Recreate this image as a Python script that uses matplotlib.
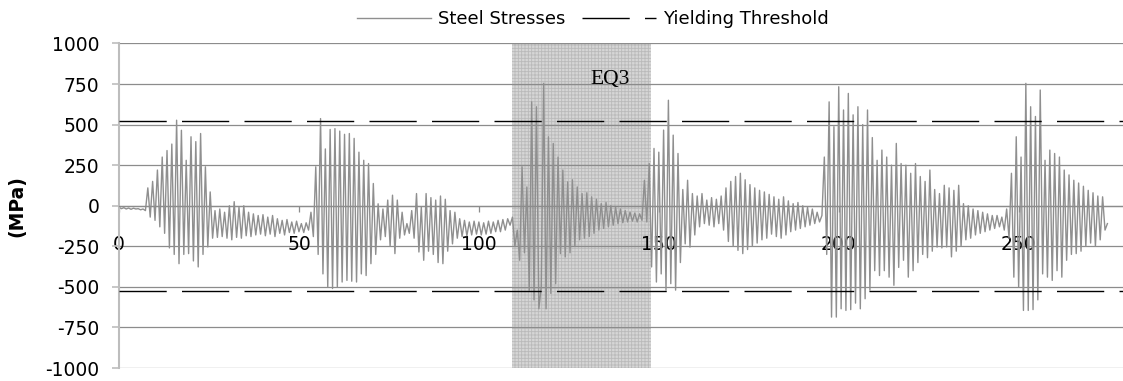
import numpy as np
import matplotlib
matplotlib.use("Agg")
import matplotlib.pyplot as plt

plt.rcParams["axes.unicode_minus"] = False
plt.rcParams["hatch.linewidth"] = 0.6

# Steel stress peaks/troughs (MPa), one value every 2/3 s
stress = [
    # 0-10
    -10, -18, -12, -20, -14, -22, -15, -20, -18, -25, -20, -30, 110, -70, 150,
    # 10-20
    -90, 220, -130, 300, -170, 340, -260, 380, -300, 527, -357, 465, -300, 280, -295,
    # 20-30
    425, -340, 395, -377, 445, -300, 240, -254, 85, -200, -30, -195, -20, -190, -40,
    # 30-40
    -200, 0, -210, 25, -195, -10, -200, 0, -185, -40, -190, -50, -180, -60, -175,
    # 40-50
    -55, -185, -70, -175, -60, -190, -80, -170, -90, -180, -85, -165, -100, -170, -95,
    # 50-60
    -160, -110, -165, -105, -150, -40, -190, 240, -300, 537, -420, 350, -500, 470, -510,
    # 60-70
    475, -500, 460, -470, 440, -460, 445, -465, 415, -470, 330, -420, 280, -430, 260,
    # 70-80
    -357, 137, -300, 12, -210, -20, -190, 35, -250, 65, -295, 35, -200, -40, -180,
    # 80-90
    -110, -170, -30, -200, 75, -285, -8, -336, 75, -280, 50, -300, 35, -350, 60,
    # 90-100
    -357, 40, -280, -30, -235, -40, -200, -80, -190, -90, -185, -100, -180, -95, -175,
    # 100-110
    -100, -180, -105, -175, -95, -170, -100, -160, -90, -160, -85, -150, -80, -120, -70,
    # 110-120
    -250, -150, -336, 240, -290, 116, -520, 640, -580, 610, -635, -500, 754, -635, 425,
    # 120-130
    -540, 384, -480, 300, -295, 220, -315, 147, -290, 160, -250, 116, -210, 75, -200,
    # 130-140
    80, -190, 55, -170, 40, -150, 13, -140, 20, -130, 0, -120, -10, -110, -20,
    # 140-150
    -105, -30, -100, -40, -95, -45, -100, -50, -90, 157, -100, 260, -377, 353, -470,
    # 150-160
    330, -420, 466, -520, 650, -480, 435, -520, 322, -350, 100, -235, 157, -255, 75,
    # 160-170
    -180, 60, -130, 75, -110, 35, -120, 50, -130, 40, -110, 60, -150, 110, -220,
    # 170-180
    150, -250, 180, -275, 200, -295, 160, -270, 130, -250, 110, -230, 95, -210, 85,
    # 180-190
    -200, 70, -175, 55, -190, 40, -200, 55, -180, 30, -160, 13, -150, 20, -140,
    # 190-200
    0, -130, -10, -120, -20, -110, -40, -100, -60, 300, -300, 640, -686, 487, -686,
    # 200-210
    733, -635, 590, -645, 692, -640, 560, -600, 610, -635, 500, -573, 590, -520, 420,
    # 210-220
    -400, 280, -430, 343, -400, 300, -440, 250, -490, 384, -380, 260, -336, 250, -440,
    # 220-230
    200, -400, 260, -350, 180, -300, 150, -320, 220, -280, 100, -255, 75, -260, 126,
    # 230-240
    -254, 110, -315, 95, -280, 126, -250, 13, -210, 0, -200, -20, -180, -30, -170,
    # 240-250
    -40, -160, -50, -150, -60, -140, -60, -130, -70, -150, -20, -200, 200, -440, 425,
    # 250-260
    -500, 300, -645, 754, -645, 610, -640, 550, -580, 713, -420, 280, -440, 343, -460,
    # 260-270
    322, -400, 300, -440, 220, -336, 190, -300, 157, -295, 140, -280, 120, -250, 95,
    # 270-275
    -230, 80, -250, 60, -210, 55, -150, -110,
]
dt = 2.0 / 3.0
time = np.arange(len(stress)) * dt

yield_stress = 525
eq3_start, eq3_end = 109.3, 147.7
x_ticks = [0, 50, 100, 150, 200, 250]
y_ticks = [-1000, -750, -500, -250, 0, 250, 500, 750, 1000]

fig = plt.figure(figsize=(11.23, 3.81), dpi=100)
ax = fig.add_axes([0.106, 0.034, 0.894, 0.852])

# shaded EQ3 window
ax.axvspan(eq3_start, eq3_end, facecolor="#d6d6d6", edgecolor="#bababa",
           hatch="+++++", linewidth=0, zorder=0)

for yv in y_ticks:
    ax.axhline(yv, color="#8c8c8c", lw=0.9, zorder=1)

ax.plot(time, stress, color="#8f8f8f", lw=1.0, zorder=2, label="Steel Stresses")
ax.axhline(yield_stress, color="black", lw=1.0, dashes=(34, 11), zorder=3,
           label="Yielding Threshold")
ax.axhline(-yield_stress, color="black", lw=1.0, dashes=(34, 11), zorder=3)

ax.text(136.5, 775, "EQ3", family="Liberation Serif", fontsize=15.5,
        ha="center", va="center")

ax.set_xlim(0, 279)
ax.set_ylim(-1000, 1000)
ax.set_yticks(y_ticks)
ax.set_xticks(x_ticks)

for side in ["top", "right"]:
    ax.spines[side].set_visible(False)
ax.spines["left"].set_color("#bdbdbd")
ax.spines["left"].set_linewidth(1.5)
ax.spines["bottom"].set_position(("data", 0))
ax.spines["bottom"].set_color("#8c8c8c")
ax.spines["bottom"].set_linewidth(0.9)

ax.tick_params(axis="y", labelsize=13.5, color="#bdbdbd", length=5, width=1.2, pad=9)
ax.tick_params(axis="x", labelsize=13.5, color="#8c8c8c", length=4, width=0.9,
               direction="out", pad=17)

ax.set_ylabel("(MPa)", fontsize=13.5, fontweight="bold", labelpad=14)

fig.legend(loc="center", bbox_to_anchor=(0.528, 0.95), ncol=2, frameon=False,
           fontsize=13, handlelength=4.1, columnspacing=0.9, handletextpad=0.4)

plt.savefig("out.png", dpi=100)
